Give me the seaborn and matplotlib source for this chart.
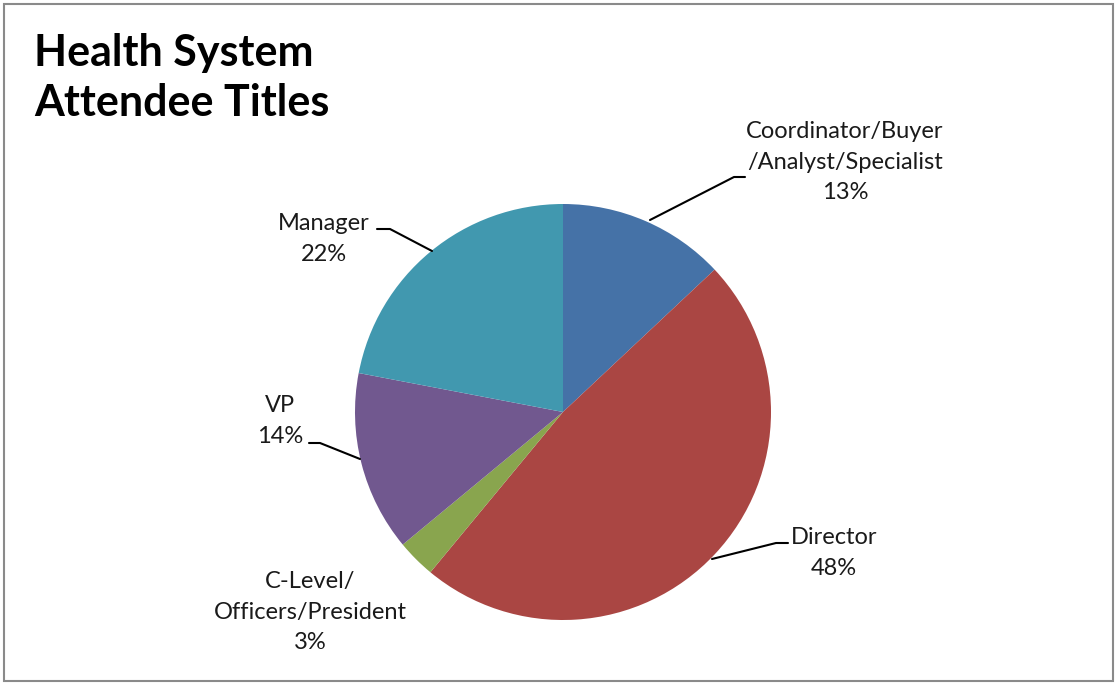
import numpy as np
import matplotlib
matplotlib.use("Agg")
import matplotlib.pyplot as plt
import seaborn as sns

# Data
categories = ["Coordinator/Buyer\n/Analyst/Specialist", "Director",
              "C-Level/\nOfficers/President", "VP", "Manager"]
shares = [13, 48, 3, 14, 22]
colors = ["#4572A7", "#AA4643", "#89A54E", "#71588F", "#4198AF"]

sns.set_theme(style="white")
plt.rcParams["font.family"] = ["Lato", "DejaVu Sans"]

W, H = 1117, 683
fig = plt.figure(figsize=(W / 100, H / 100), dpi=100)

# pie placement in pixels
cx, cy, r = 563, 412, 208
ax = fig.add_axes([(cx - r) / W, (H - cy - r) / H, 2 * r / W, 2 * r / H])
ax.pie(shares, colors=sns.color_palette(colors), startangle=90,
       counterclock=False, radius=1.0, wedgeprops=dict(linewidth=0))
ax.set_xlim(-1, 1)
ax.set_ylim(-1, 1)
ax.set_aspect("equal")
ax.axis("off")


def px(x, y):
    # pixel -> data coords of the pie axes
    return (x - cx) / r, (cy - y) / r


# label layout: text center (px), leader polyline (px) or None
layout = [
    ((845, 162), [(650, 220), (734, 177), (745, 177)]),
    ((834, 553), [(712, 559), (776, 543), (788, 543)]),
    ((310, 612), None),
    ((280, 421), [(360, 459), (320, 443), (309, 443)]),
    ((324, 239), [(432, 251), (390, 229), (377, 229)]),
]

for name, val, (tpos, leader) in zip(categories, shares, layout):
    tx, ty = px(*tpos)
    ax.text(tx, ty, f"{name}\n{val}%", ha="center", va="center",
            fontsize=17, color="#1a1a1a", linespacing=1.55, clip_on=False)
    if leader:
        xs, ys = zip(*[px(*p) for p in leader])
        ax.plot(xs, ys, color="black", lw=1.5, clip_on=False)

fig.text(34 / W, 1 - 33 / H, "Health System\nAttendee Titles", ha="left",
         va="top", fontsize=31, fontweight="bold", color="black",
         linespacing=1.3)

# outer border
border = plt.Rectangle((4 / W, 2 / H), 1109 / W, 677 / H, transform=fig.transFigure,
                       fill=False, edgecolor="#8a8a8a", lw=1.5)
fig.patches.append(border)

fig.savefig("out.png", dpi=100, facecolor="white")
